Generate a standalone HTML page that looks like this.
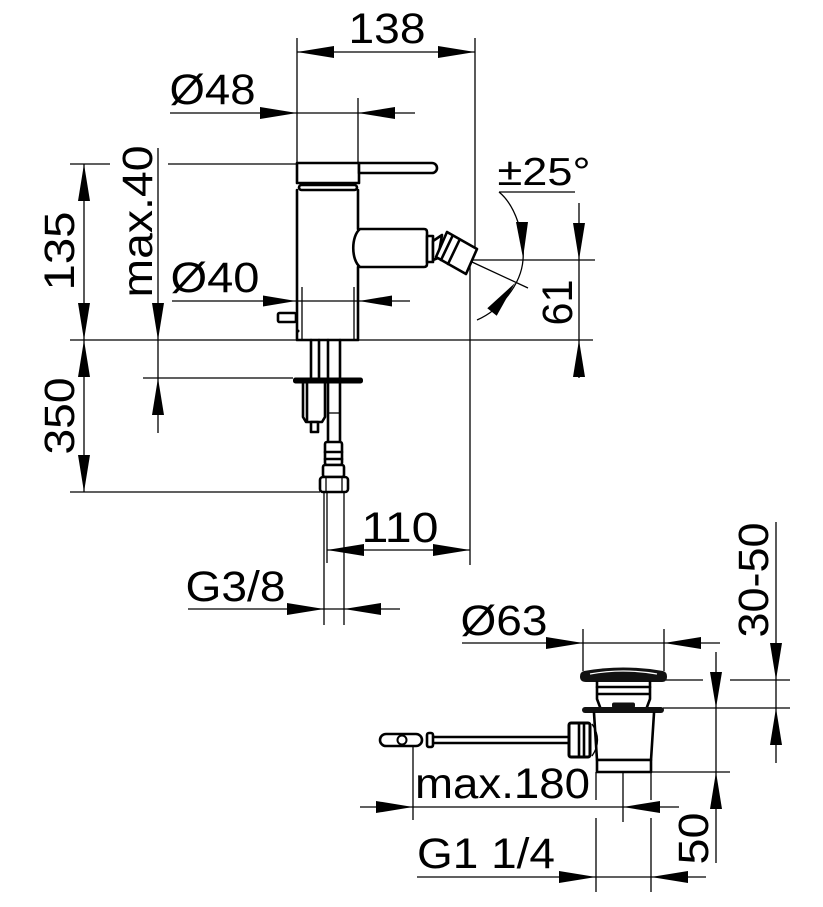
<!DOCTYPE html>
<html>
<head>
<meta charset="utf-8">
<style>
html,body{margin:0;padding:0;background:#fff;}
svg{display:block;}
.t{stroke:#000;stroke-width:1.3;fill:none;}
.k{stroke:#000;stroke-width:2.6;fill:none;stroke-linejoin:round;stroke-linecap:round;}
.kw{stroke:#000;stroke-width:2.6;fill:#fff;stroke-linejoin:round;}
text{font-family:"Liberation Sans",Arial,sans-serif;font-size:43px;fill:#000;}
</style>
</head>
<body>
<svg width="823" height="907" viewBox="0 0 823 907" xmlns="http://www.w3.org/2000/svg">
<!-- thin dimension / extension lines -->
<path class="t" d="
M297,38 V163
M475,38 V248
M297,52 H475
M170,113 H415
M358,98 V163
M70,164 H110 M168,164 H297
M84,164 V492
M158,148 V433
M70,340 H593
M143,378 H293
M70,492 H320
M172,301 H410
M302,287 V340 M354,287 V340
M470,260 H595
M470,260 V565
M579,203 V378
M472,262 L528,288
M499,192 H575
M327,492 V563
M327,550 H470
M324,492 V625 M344,492 V625
M188,609 H400
M583,629 V671 M664,629 V671
M462,643 H720
M666,680 H703 M730,680 H790
M663,708 H790
M651,772 H730
M776,522 V763
M716,652 V863
M413,745 V820
M360,807 H679
M623,772 V822
M596,772 V800 M596,818 V892
M651,772 V800 M651,818 V892
M417,877 H706
"/>
<!-- angle arc -->
<path class="t" d="M499,192 C515,205 525,235 523,260 C521,285 500,310 477,320"/>

<!-- arrowheads -->
<g fill="#000">
<polygon points="297,52 334,46 334,58"/>
<polygon points="475,52 438,46 438,58"/>
<polygon points="297,113 260,107 260,119"/>
<polygon points="358,113 395,107 395,119"/>
<polygon points="296,301 263,295.5 263,306.5"/>
<polygon points="359,301 392,295.5 392,306.5"/>
<polygon points="327,550 364,544 364,556"/>
<polygon points="470,550 433,544 433,556"/>
<polygon points="324,609 287,603 287,615"/>
<polygon points="344,609 381,603 381,615"/>
<polygon points="583,643 546,637 546,649"/>
<polygon points="664,643 701,637 701,649"/>
<polygon points="413,807 376,801 376,813"/>
<polygon points="623,807 660,801 660,813"/>
<polygon points="596,877 559,871 559,883"/>
<polygon points="651,877 688,871 688,883"/>
<polygon points="84,164 78,201 90,201"/>
<polygon points="84,340 78,303 90,303"/>
<polygon points="84,340 78,377 90,377"/>
<polygon points="84,492 78,455 90,455"/>
<polygon points="158,340 152,303 164,303"/>
<polygon points="158,378 152,415 164,415"/>
<polygon points="579,260 573,223 585,223"/>
<polygon points="579,340 573,377 585,377"/>
<polygon points="523,258 516,222 528,222"/>
<polygon points="515,283 496.7,315.7 487.3,308.3"/>
<polygon points="776,680 770,643 782,643"/>
<polygon points="776,708 770,745 782,745"/>
<polygon points="716,708 710,672 722,672"/>
<polygon points="716,772 710,809 722,809"/>
</g>

<!-- faucet body -->
<rect class="kw" x="297" y="163" width="62" height="20"/>
<path class="kw" d="M359,163 H432 A5,5 0 0 1 432,173 H359 Z"/>
<rect class="kw" x="299" y="185" width="58" height="5" rx="2.5" stroke-width="2"/>
<path class="k" d="M297,190 V340 H358 V267 M358,229 V190"/>
<path class="kw" d="M360,229 H424 Q427,229 427,232 V264 Q427,267 424,267 H360 C351,260 351,236 360,229 Z"/>
<rect class="kw" x="427" y="236" width="6" height="26" stroke-width="2"/>
<polygon class="kw" points="433,241 442,235 438,258 433,260" stroke-width="2"/>
<polygon class="kw" points="447,232 477,249 466,274 436,257"/>
<path class="k" d="M452,237 L441,260 M459,241 L448,264" stroke-width="2.2"/>
<rect class="kw" x="278" y="313" width="18" height="9" rx="1.5" stroke-width="2"/>
<circle cx="298" cy="331" r="1.5" fill="#000"/>

<!-- pipes under faucet -->
<path class="k" d="M311,340 V378 M319,340 V378 M328,340 V378 M340,340 V378"/>
<rect x="293" y="377.5" width="70" height="6" rx="2.5" fill="#000"/>
<path class="k" stroke-width="2.2" d="M303,383 V417 L306,422 H322 L325,417 V383 M307,383 V420"/>
<rect class="kw" x="311" y="422" width="7" height="10" stroke-width="2"/>
<path class="k" d="M328,383 V442 M340,383 V442"/>
<path class="t" d="M328,413 H340"/>
<rect class="kw" x="325" y="442" width="17" height="23" rx="2"/>
<path class="k" stroke-width="2" d="M325,452 H342 M325,459 H342"/>
<rect class="kw" x="323" y="465" width="21" height="12" rx="2"/>
<rect class="kw" x="320" y="477" width="28" height="15" rx="3"/>
<path class="t" d="M326,477 V492 M342,477 V492"/>

<!-- drain -->
<path d="M584,671 Q623,664 663,671 Q667,672 667,676.5 Q667,682 662,682 H586 Q580,682 580,676.5 Q580,672 584,671 Z" fill="#111"/>
<path d="M590,674 Q623,668 657,674" stroke="#fff" stroke-width="1.2" fill="none"/>
<path class="k" d="M597,682 V699 L600,707 M650,682 V699 L647,707"/>
<path class="k" stroke-width="2" d="M597,687 H650 M598,694 H649"/>
<rect x="612" y="702.5" width="23" height="5.5" rx="2" fill="#111"/>
<rect x="582" y="707" width="82" height="6" rx="3" fill="#111"/>
<path class="k" d="M594,713 L597,760 H651 L654,713"/>
<rect class="kw" x="597" y="760" width="54" height="12"/>
<path class="t" stroke-width="1.6" d="M592,724 Q603,740 592,756"/>
<rect x="569" y="723" width="21" height="34" rx="2" fill="#fff" stroke="#000" stroke-width="3"/>
<path class="k" stroke-width="2" d="M579,724 V756 M584,724 V756"/>
<path class="k" stroke-width="2" d="M433,737 H569 M433,743 H569"/>
<rect class="kw" x="380" y="734" width="42" height="12" rx="6"/>
<circle cx="402" cy="740" r="4.5" fill="#fff" stroke="#000" stroke-width="2"/>
<rect class="kw" x="427" y="733" width="6" height="14" rx="2"/>

<!-- horizontal labels -->
<text x="387" y="43" text-anchor="middle" textLength="77" lengthAdjust="spacingAndGlyphs">138</text>
<text x="212.5" y="104" text-anchor="middle" textLength="86" lengthAdjust="spacingAndGlyphs">Ø48</text>
<text x="544" y="185" text-anchor="middle" textLength="93" lengthAdjust="spacingAndGlyphs" style="font-size:39px">±25°</text>
<text x="215" y="292" text-anchor="middle" textLength="89" lengthAdjust="spacingAndGlyphs">Ø40</text>
<text x="400" y="542" text-anchor="middle" textLength="77" lengthAdjust="spacingAndGlyphs">110</text>
<text x="235.5" y="601" text-anchor="middle" textLength="100" lengthAdjust="spacingAndGlyphs">G3/8</text>
<text x="504" y="635" text-anchor="middle" textLength="87" lengthAdjust="spacingAndGlyphs">Ø63</text>
<text x="502.5" y="798" text-anchor="middle" textLength="175" lengthAdjust="spacingAndGlyphs">max.180</text>
<text x="486" y="868" text-anchor="middle" textLength="138" lengthAdjust="spacingAndGlyphs">G1 1/4</text>

<!-- rotated labels -->
<text transform="translate(74,251) rotate(-90)" text-anchor="middle" textLength="79" lengthAdjust="spacingAndGlyphs">135</text>
<text transform="translate(74,416) rotate(-90)" text-anchor="middle" textLength="77" lengthAdjust="spacingAndGlyphs">350</text>
<text transform="translate(152,221.5) rotate(-90)" text-anchor="middle" textLength="152" lengthAdjust="spacingAndGlyphs">max.40</text>
<text transform="translate(572,302.5) rotate(-90)" text-anchor="middle" textLength="46" lengthAdjust="spacingAndGlyphs">61</text>
<text transform="translate(768,580) rotate(-90)" text-anchor="middle" textLength="115" lengthAdjust="spacingAndGlyphs">30-50</text>
<text transform="translate(708,838.5) rotate(-90)" text-anchor="middle" textLength="52" lengthAdjust="spacingAndGlyphs">50</text>
</svg>
</body>
</html>
